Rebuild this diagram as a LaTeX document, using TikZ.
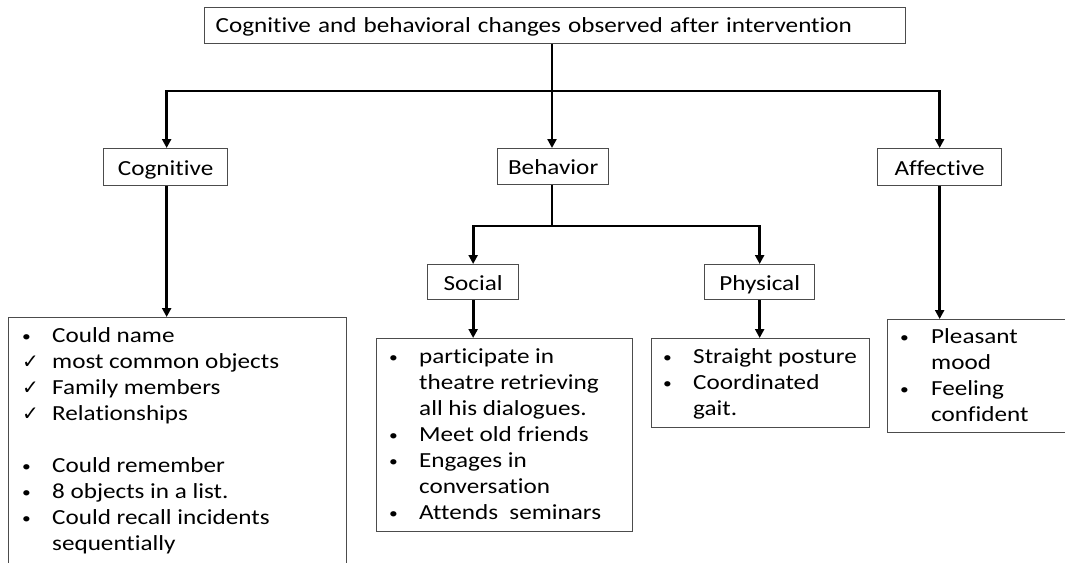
\documentclass[tikz,border=0pt]{standalone}
\usepackage{fontspec}
\setmainfont{Carlito}[FakeStretch=1.17,Ligatures=NoCommon]
\newfontfamily\symfont{DejaVu Sans}
\usetikzlibrary{arrows.meta}
\newcommand{\ck}{{\symfont\fontsize{20}{26}\selectfont ✓}}
\newcommand{\bl}{\raisebox{1pt}{\fontsize{15}{26}\selectfont •}}
\begin{document}
\begin{tikzpicture}[x=1pt,y=-1pt,
  box/.style={draw=black!70, line width=1.3pt, fill=white, inner sep=0pt, anchor=north west},
  lbl/.style={box, font=\fontsize{21.5}{26}\selectfont, text height=17pt, text depth=1pt},
  lst/.style={inner sep=0pt, anchor=base west, font=\fontsize{21.5}{26}\selectfont},
  wire/.style={line width=2.8pt},
  conn/.style={line width=2.8pt, -{Triangle[length=9pt,width=9pt]}}]
\clip (0,0) rectangle (1065,562);
\fill[white] (0,0) rectangle (1065,562);
% title
\node[box, minimum width=701pt, minimum height=36pt, font=\fontsize{21.5}{26}\selectfont,
      align=left, text width=679pt, inner xsep=11pt, text height=16pt, text depth=2pt] (title) at (204,7)
      {Cognitive and behavioral changes observed after intervention};
% level 1 labels
\node[lbl, minimum width=124pt, minimum height=37pt] (cog) at (103,148) {Cognitive};
\node[lbl, minimum width=111pt, minimum height=36pt] (beh) at (497,148) {Behavior};
\node[lbl, minimum width=124pt, minimum height=37pt] (aff) at (877,148) {Affective};
% level 2 labels
\node[lbl, minimum width=91pt, minimum height=35pt] (soc) at (427,264) {Social};
\node[lbl, minimum width=110pt, minimum height=35pt] (phy) at (704,264) {Physical};
% content boxes
\node[box, minimum width=338pt, minimum height=250pt] (cogC) at (8,317) {};
\node[box, minimum width=256pt, minimum height=193pt] (socC) at (376,338) {};
\node[box, minimum width=218pt, minimum height=89pt] (phyC) at (651,338) {};
\node[box, minimum width=200pt, minimum height=113pt] (affC) at (887,319) {};
% lists
\node[lst] (cogT) at (22,342) {\begin{tabular}[t]{@{}p{30pt}@{}l@{}}
\bl& Could name\\
\ck& most common objects\\
\ck& Family members\\
\ck& Relationships\\
 & \\
\bl& Could remember\\
\bl& 8 objects in a list.\\
\bl& Could recall incidents\\
 & sequentially
\end{tabular}};
\node[lst] (socT) at (389,363) {\begin{tabular}[t]{@{}p{30pt}@{}l@{}}
\bl& participate in\\
 & theatre retrieving\\
 & all his dialogues.\\
\bl& Meet old friends\\
\bl& Engages in\\
 & conversation\\
\bl& Attends\ \ seminars
\end{tabular}};
\node[lst] (phyT) at (663,363) {\begin{tabular}[t]{@{}p{30pt}@{}l@{}}
\bl& Straight posture\\
\bl& Coordinated\\
 & gait.
\end{tabular}};
\node[lst] (affT) at (900,343) {\begin{tabular}[t]{@{}p{31pt}@{}l@{}}
\bl& Pleasant\\
 & mood\\
\bl& Feeling\\
 & confident
\end{tabular}};
% connectors
\coordinate (j1) at (552,91);
\coordinate (j2) at (552,226);
\draw[wire] (title.south -| j1) -- (j1);
\draw[conn] (j1) -| ([xshift=1pt]cog.north);
\draw[conn] (j1) -| (aff.north);
\draw[conn] (j1) -- (beh.north -| j1);
\draw[wire] (beh.south -| j2) -- (j2);
\draw[conn] (j2) -| (soc.north);
\draw[conn] (j2) -| (phy.north);
\draw[conn] ([xshift=1pt]cog.south) -- ([xshift=1pt]cog.south |- cogC.north);
\draw[conn] (soc.south) -- (soc.south |- socC.north);
\draw[conn] (phy.south) -- (phy.south |- phyC.north);
\draw[conn] (aff.south) -- (aff.south |- affC.north);
\end{tikzpicture}
\end{document}
